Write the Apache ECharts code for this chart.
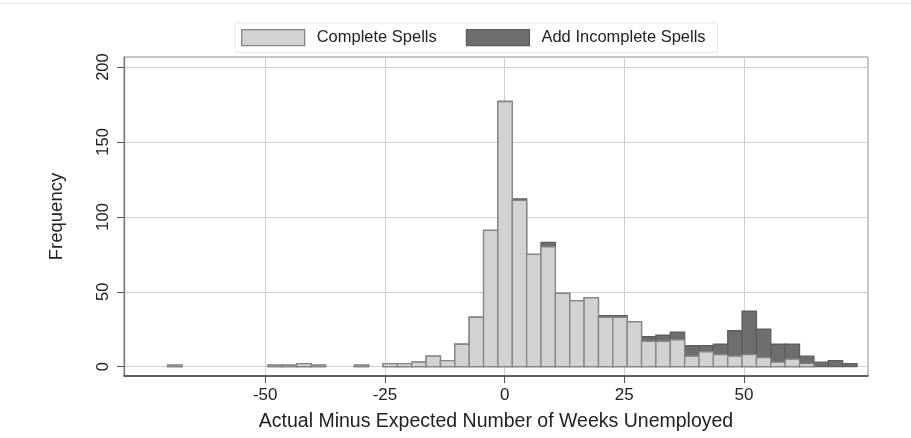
<!DOCTYPE html>
<html>
<head>
<meta charset="utf-8">
<script src="https://cdn.jsdelivr.net/npm/echarts@6/dist/echarts.min.js"></script>
<style>
html,body{margin:0;padding:0;background:#fff;}
#chart{width:911px;height:438px;}
</style>
</head>
<body>
<div id="chart"></div>
<script>
// Histogram bins (left and right edges, weeks)
var binLeft = [-70.4,-67.4,-64.4,-61.4,-58.4,-55.4,-52.4,-49.4,-46.4,-43.4,-40.4,-37.4,-34.4,-31.4,-28.4,-25.4,
  -22.4,-19.4,-16.4,-13.4,-10.4,-7.4,-4.4,-1.4,1.6,4.6,7.6,10.6,13.6,16.6,19.6,22.6,
  25.6,28.6,31.6,34.6,37.6,40.6,43.6,46.6,49.6,52.6,55.6,58.6,61.6,64.6,67.6,70.6];
var binRight = [-67.4,-64.4,-61.4,-58.4,-55.4,-52.4,-49.4,-46.4,-43.4,-40.4,-37.4,-34.4,-31.4,-28.4,-25.4,-22.4,
  -19.4,-16.4,-13.4,-10.4,-7.4,-4.4,-1.4,1.6,4.6,7.6,10.6,13.6,16.6,19.6,22.6,25.6,
  28.6,31.6,34.6,37.6,40.6,43.6,46.6,49.6,52.6,55.6,58.6,61.6,64.6,67.6,70.6,73.6];
// Frequencies: complete spells only
var completeSpells = [1,0,0,0,0,0,0,1,1,2,1,0,0,1,0,2,
  2,3,7,4,15,33,91,177,111,75,80,49,44,46,33,33,
  30,17,17,18,7,10,8,7,8,6,3,5,2,0,0,0];
// Frequencies: complete + incomplete spells
var allSpells = [1,0,0,0,0,0,0,1,1,2,1,0,0,1,0,2,
  2,3,7,4,15,33,91,177,112,75,83,49,44,46,34,34,
  30,20,21,23,14,14,15,24,37,25,15,15,7,3,4,2];
var xTicks = [-50,-25,0,25,50];
var yTicks = [0,50,100,150,200];
var seriesNames = ['Complete Spells','Add Incomplete Spells'];
var xTitle = 'Actual Minus Expected Number of Weeks Unemployed';
var yTitle = 'Frequency';

var LIGHT = '#d2d2d2', LIGHT_B = '#858585';
var DARK = '#6e6e6e', DARK_B = '#5e5e5e';
var FONT = 'Liberation Sans, Arial, sans-serif';

function mk(vals){
  return vals.map(function(v,i){ return [binLeft[i], binRight[i], v]; });
}
function renderer(fill, stroke){
  return function(params, api){
    var v = api.value(2);
    if (!v) return null;
    var p0 = api.coord([api.value(0), v]);
    var p1 = api.coord([api.value(1), 0]);
    return {
      type:'rect',
      shape:{x:p0[0], y:p0[1], width:p1[0]-p0[0], height:p1[1]-p0[1]},
      style:{fill:fill, stroke:stroke, lineWidth:1.3}
    };
  };
}

var chart = echarts.init(document.getElementById('chart'), null, {renderer:'canvas'});
chart.setOption({
  backgroundColor:'#ffffff',
  animation:false,
  textStyle:{fontFamily:FONT},
  graphic:[{type:'line', shape:{x1:0,y1:3.5,x2:911,y2:3.5}, style:{stroke:'#e8eaf0', lineWidth:1}}],
  legend:{
    left:235, top:23,
    padding:[6,12,6,6],
    itemGap:29,
    itemWidth:63, itemHeight:16,
    borderColor:'#e2e6ee', borderWidth:1,
    textStyle:{fontSize:16.5, color:'#222', fontFamily:FONT, padding:[0,0,0,7]},
    data:[
      {name:seriesNames[0], icon:'rect', itemStyle:{color:LIGHT, borderColor:LIGHT_B, borderWidth:1.3}},
      {name:seriesNames[1], icon:'rect', itemStyle:{color:DARK, borderColor:DARK_B, borderWidth:1.3}}
    ]
  },
  grid:{left:124, right:43, top:57, bottom:62, show:true, borderColor:'#8c8c8c', borderWidth:1, backgroundColor:'transparent'},
  xAxis:{
    type:'value', min:-79.5, max:75.9,
    name:xTitle, nameLocation:'middle', nameGap:36,
    nameTextStyle:{fontSize:19.5, color:'#222', fontFamily:FONT},
    axisLine:{show:true, onZero:false, lineStyle:{color:'#3c3c3c', width:1.6}},
    axisTick:{show:true, length:7, lineStyle:{color:'#555'}, customValues:xTicks},
    axisLabel:{fontSize:17, color:'#222', margin:11, customValues:xTicks, fontFamily:FONT},
    splitLine:{show:true, lineStyle:{color:'#cfcfcf', width:1}}
  },
  yAxis:{
    type:'value', min:-6.2, max:206.7,
    name:yTitle, nameLocation:'middle', nameGap:58, nameRotate:90,
    nameTextStyle:{fontSize:18.5, color:'#222', fontFamily:FONT},
    axisLine:{show:true, onZero:false, lineStyle:{color:'#7a7a7a', width:1.3}},
    axisTick:{show:true, length:7, lineStyle:{color:'#555'}, customValues:yTicks},
    axisLabel:{fontSize:16.5, color:'#222', margin:12, rotate:90, customValues:yTicks, fontFamily:FONT},
    splitLine:{show:true, lineStyle:{color:'#cfcfcf', width:1}}
  },
  series:[
    {
      name:seriesNames[1], type:'custom', z:2,
      itemStyle:{color:DARK, borderColor:DARK_B},
      renderItem:renderer(DARK, DARK_B),
      encode:{x:[0,1], y:2},
      data:mk(allSpells)
    },
    {
      name:seriesNames[0], type:'custom', z:3,
      itemStyle:{color:LIGHT, borderColor:LIGHT_B},
      renderItem:renderer(LIGHT, LIGHT_B),
      encode:{x:[0,1], y:2},
      data:mk(completeSpells)
    }
  ]
});
</script>
</body>
</html>
